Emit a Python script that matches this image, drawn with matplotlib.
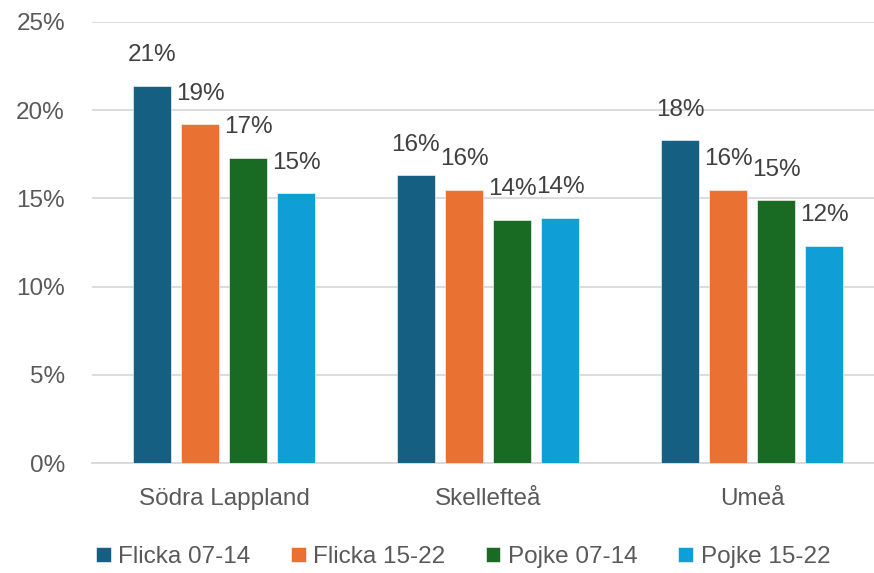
import matplotlib.pyplot as plt
import numpy as np

# data
regions = ['Södra Lappland', 'Skellefteå', 'Umeå']
series = ['Flicka 07-14', 'Flicka 15-22', 'Pojke 07-14', 'Pojke 15-22']
flicka_07_14 = [21.4, 16.3, 18.3]
flicka_15_22 = [19.2, 15.5, 15.5]
pojke_07_14 = [17.3, 13.8, 14.9]
pojke_15_22 = [15.3, 13.9, 12.3]
yticks = [0, 5, 10, 15, 20, 25]

values = [flicka_07_14, flicka_15_22, pojke_07_14, pojke_15_22]
colors = ['#156082', '#E97132', '#196B24', '#0F9ED5']

plt.rcParams['font.family'] = ['Liberation Sans', 'DejaVu Sans']

fig = plt.figure(figsize=(8.74, 5.73), dpi=100)
ax = fig.add_axes([92 / 874, 1 - 463 / 573, 792 / 874, 441 / 573])

x = np.arange(len(regions))
step = 0.182
width = 0.144
for i, (vals, col, name) in enumerate(zip(values, colors, series)):
    pos = x + (i - 1.5) * step
    bars = ax.bar(pos, vals, width, color=col, label=name, zorder=3,
                  edgecolor='white', linewidth=0.4)
    for b, v in zip(bars, vals):
        ax.annotate(f'{round(v)}%', (b.get_x() + b.get_width() / 2, v),
                    xytext=(0, 22), textcoords='offset points',
                    ha='center', va='center', fontsize=17.5, color='#404040')

ax.set_xlim(-0.5, 2.5)
ax.set_ylim(0, 25)
ax.set_yticks(yticks)
ax.set_yticklabels([f'{t}%' for t in yticks], fontsize=17.5, color='#595959')
ax.set_xticks(x)
ax.set_xticklabels(regions, fontsize=17.5, color='#595959')
ax.tick_params(length=0)
ax.tick_params(axis='y', pad=19.5)
ax.tick_params(axis='x', pad=18)
ax.grid(axis='y', color='#d9d9d9', linewidth=1.3, zorder=0)
for s in ['top', 'right', 'left']:
    ax.spines[s].set_visible(False)
ax.spines['bottom'].set_color('#d9d9d9')
ax.spines['bottom'].set_linewidth(1.3)

handles, labels = ax.get_legend_handles_labels()
leg = fig.legend(handles, labels, loc='center left', bbox_to_anchor=(74 / 874, 1 - 557 / 573),
                 ncol=4, frameon=False, handlelength=0.61, handleheight=0.61,
                 handletextpad=0.32, columnspacing=1.65,
                 prop={'size': 17.5})
for t in leg.get_texts():
    t.set_color('#595959')

fig.savefig('out.png', dpi=100)
